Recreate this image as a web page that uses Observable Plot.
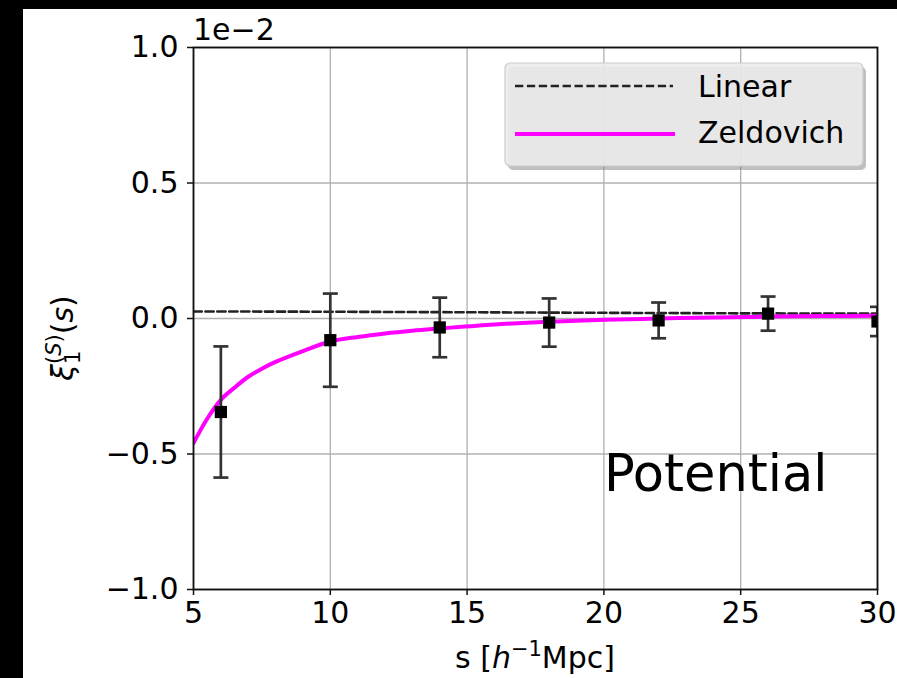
<!DOCTYPE html>
<html>
<head>
<meta charset="utf-8">
<script src="https://cdn.jsdelivr.net/npm/d3@7"></script>
<script src="https://cdn.jsdelivr.net/npm/@observablehq/plot@0.6"></script>
<style>
  html, body { margin: 0; padding: 0; background: #000; width: 897px; height: 678px; overflow: hidden; }
  #chart { position: absolute; left: 23px; top: 9px; }
  svg { display: block; }
</style>
</head>
<body>
<div id="chart"></div>
<script>
// ---- data (values in units of 1e-2) ----
const sPoints = [6, 10, 14, 18, 22, 26, 30];
const xiPoints = [-0.345, -0.08, -0.033, -0.015, -0.007, 0.018, -0.011];
const xiErrors = [0.242, 0.172, 0.11, 0.089, 0.066, 0.063, 0.054];

const sLinear = [5, 10, 15, 20, 25, 30];
const xiLinear = [0.026, 0.025, 0.023, 0.021, 0.019, 0.018];

const sZeld = [5, 5.5, 6, 6.5, 7, 7.5, 8, 9, 10, 11, 12, 13, 14, 16, 18, 20, 22, 24, 26, 28, 30];
const xiZeld = [-0.46, -0.37, -0.30, -0.255, -0.215, -0.185, -0.16, -0.12, -0.085, -0.068, -0.055, -0.045, -0.037, -0.022, -0.012, -0.005, 0.0, 0.004, 0.007, 0.009, 0.01];

const xTicks = [5, 10, 15, 20, 25, 30];
const xTickLabels = ["5", "10", "15", "20", "25", "30"];
const yTicks = [-1, -0.5, 0, 0.5, 1];
const yTickLabels = ["\u22121.0", "\u22120.5", "0.0", "0.5", "1.0"];

const seriesNames = ["Linear", "Zeldovich"];
const panelLabel = ["Potential"];
const panelLabelPos = {s: 20, xi: -0.575};

// ---- tables built from arrays ----
const points = sPoints.map((s, i) => ({s, xi: xiPoints[i], lo: xiPoints[i] - xiErrors[i], hi: xiPoints[i] + xiErrors[i]}));
const linear = sLinear.map((s, i) => ({s, xi: xiLinear[i]}));
const zeld = sZeld.map((s, i) => ({s, xi: xiZeld[i]}));

const capSymbol = {
  draw(context, size) {
    const r = Math.sqrt(size / Math.PI);
    context.moveTo(-r, 0);
    context.lineTo(r, 0);
  }
};

const FONT = "DejaVu Sans";

const plot = Plot.plot({
  width: 874,
  height: 669,
  marginLeft: 170,
  marginRight: 20,
  marginTop: 38,
  marginBottom: 89,
  style: {background: "white", fontFamily: FONT, fontSize: "30px", color: "black", overflow: "visible"},
  x: {domain: [5, 30], label: null},
  y: {domain: [-1, 1], label: null},
  marks: [
    Plot.gridX(xTicks, {stroke: "#b0b0b0", strokeOpacity: 1, strokeWidth: 1.3}),
    Plot.gridY(yTicks, {stroke: "#b0b0b0", strokeOpacity: 1, strokeWidth: 1.3}),
    Plot.text(panelLabel, {x: () => panelLabelPos.s, y: () => panelLabelPos.xi, text: d => d, textAnchor: "start", lineAnchor: "middle", fontSize: 51, fill: "black"}),
    Plot.line(linear, {x: "s", y: "xi", stroke: "#222", strokeWidth: 2.6, strokeDasharray: "8.3,3.6", clip: true}),
    Plot.line(zeld, {x: "s", y: "xi", stroke: "#ff00ff", strokeWidth: 4, curve: "catmull-rom", clip: true}),
    Plot.ruleX(points, {x: "s", y1: "lo", y2: "hi", stroke: "#333", strokeWidth: 2.7, clip: true}),
    Plot.dot(points, {x: "s", y: "lo", symbol: capSymbol, r: 7.5, fill: "none", stroke: "#333", strokeWidth: 2.7, clip: true}),
    Plot.dot(points, {x: "s", y: "hi", symbol: capSymbol, r: 7.5, fill: "none", stroke: "#333", strokeWidth: 2.7, clip: true}),
    Plot.dot(points, {x: "s", y: "xi", symbol: "square", r: 6.9, fill: "black", stroke: "none", clip: true}),
    Plot.frame({stroke: "#111", strokeWidth: 1.8}),
    Plot.axisX(xTicks, {tickSize: 6, tickPadding: 6, fontSize: 30, label: null, tickFormat: d => xTickLabels[xTicks.indexOf(d)], stroke: "#111", strokeWidth: 1.5}),
    Plot.axisY(yTicks, {tickSize: 6, tickPadding: 9, fontSize: 30, label: null, tickFormat: d => yTickLabels[yTicks.indexOf(d)], stroke: "#111", strokeWidth: 1.5})
  ]
});

document.getElementById("chart").appendChild(plot);

const svg = d3.select(plot);

// offset text
svg.append("text")
  .attr("x", 170).attr("y", 31)
  .attr("text-anchor", "start")
  .attr("font-family", FONT).attr("font-size", 30).attr("fill", "black")
  .text("1e\u22122");

// x-axis label
const xl = svg.append("text")
  .attr("x", 512).attr("y", 659)
  .attr("text-anchor", "middle")
  .attr("font-family", FONT).attr("font-size", 30).attr("fill", "black");
xl.append("tspan").text("s [");
xl.append("tspan").attr("font-style", "italic").text("h");
xl.append("tspan").attr("font-size", 21).attr("dy", -12).text("\u22121");
xl.append("tspan").attr("dy", 12).text("Mpc]");

// y-axis label
const yl = svg.append("text")
  .attr("transform", "translate(50,329) rotate(-90)")
  .attr("text-anchor", "middle")
  .attr("font-family", FONT).attr("font-size", 30).attr("fill", "black");
yl.append("tspan").attr("font-style", "italic").text("\u03be");
yl.append("tspan").attr("font-size", 21).attr("dy", 7).text("1");
yl.append("tspan").attr("font-size", 21).attr("dx", -13.4).attr("dy", -19).text("(");
yl.append("tspan").attr("font-size", 21).attr("font-style", "italic").text("S");
yl.append("tspan").attr("font-size", 21).text(")");
yl.append("tspan").attr("dy", 12).text("(");
yl.append("tspan").attr("font-style", "italic").text("s");
yl.append("tspan").text(")");

// legend
const lg = svg.append("g").attr("text-anchor", "start");
lg.append("rect").attr("x", 485).attr("y", 58).attr("width", 358).attr("height", 103)
  .attr("rx", 5).attr("fill", "#808080").attr("fill-opacity", 0.5);
lg.append("rect").attr("x", 482).attr("y", 54).attr("width", 358).attr("height", 103)
  .attr("rx", 5).attr("fill", "#ebebeb").attr("fill-opacity", 0.9).attr("stroke", "#cccccc").attr("stroke-width", 1.2);
lg.append("line").attr("x1", 492).attr("x2", 650).attr("y1", 77).attr("y2", 77)
  .attr("stroke", "#222").attr("stroke-width", 2.6).attr("stroke-dasharray", "8.3,3.6");
lg.append("line").attr("x1", 492).attr("x2", 652).attr("y1", 125).attr("y2", 125)
  .attr("stroke", "#ff00ff").attr("stroke-width", 4);
lg.append("text").attr("x", 675).attr("y", 88).attr("font-family", FONT).attr("font-size", 30).attr("fill", "black").text(seriesNames[0]);
lg.append("text").attr("x", 675).attr("y", 134).attr("font-family", FONT).attr("font-size", 30).attr("fill", "black").text(seriesNames[1]);
</script>
</body>
</html>
